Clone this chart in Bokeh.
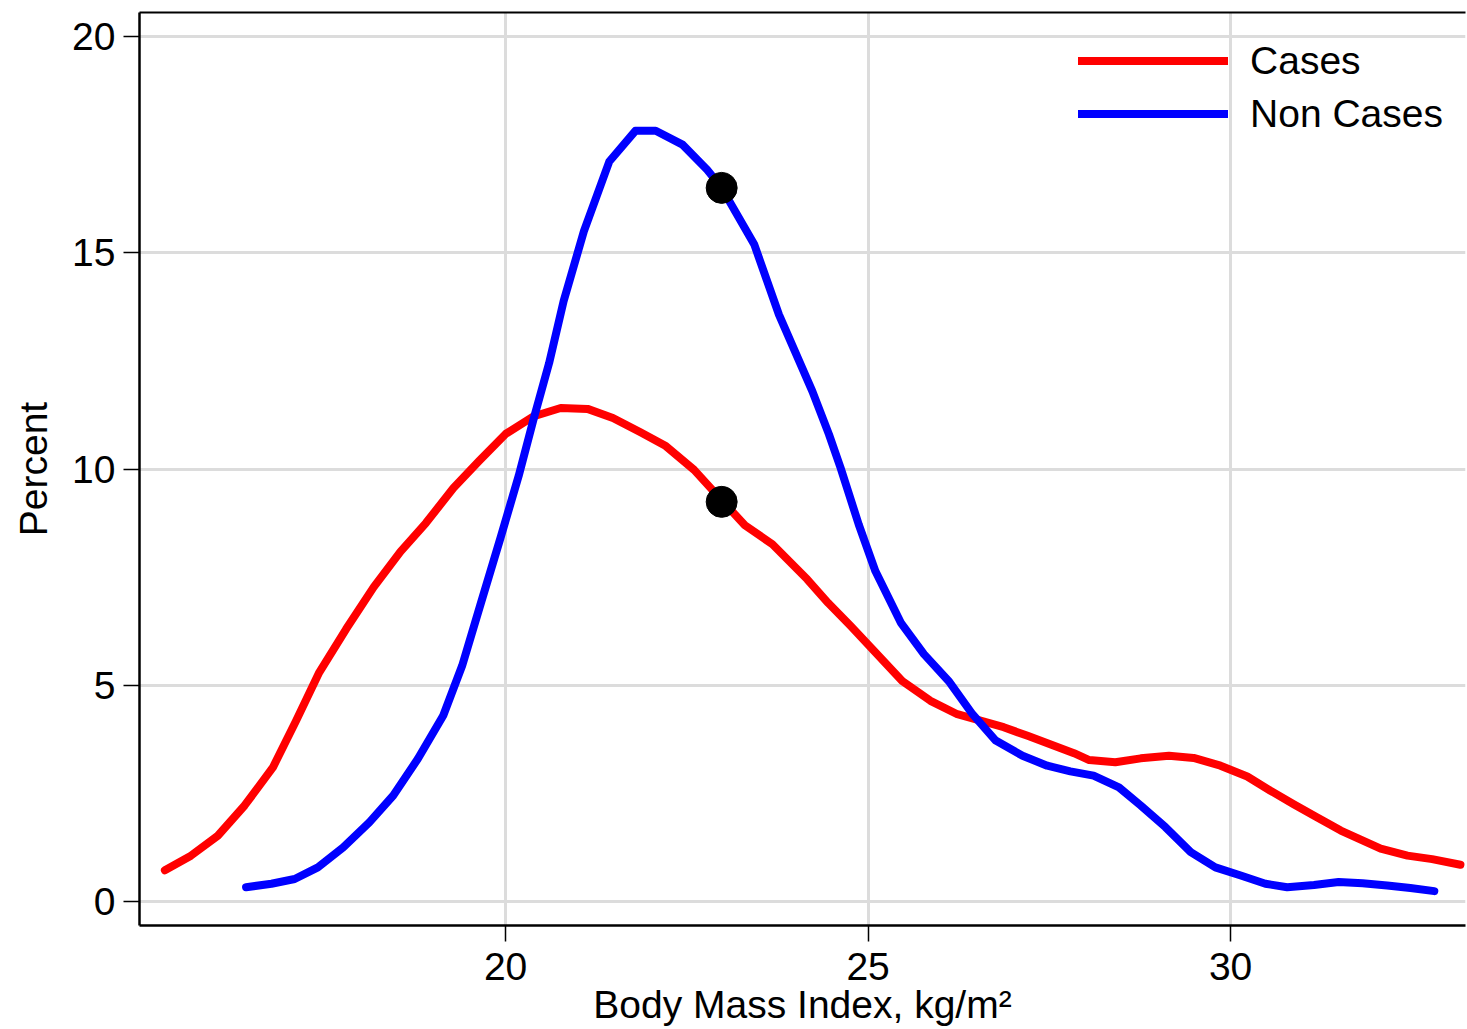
from bokeh.plotting import figure
from bokeh.models import Range1d, LinearAxis, FixedTicker, Legend, LegendItem
from bokeh.embed import file_html
from bokeh.resources import INLINE

# ---- data ----
cases_bmi = [15.30, 15.66, 16.03, 16.40, 16.79, 17.11, 17.43, 17.80, 18.18, 18.55,
             18.90, 19.28, 19.63, 20.00, 20.39, 20.76, 21.13, 21.48, 21.86, 22.21,
             22.60, 22.98, 23.30, 23.68, 24.16, 24.45, 24.76, 25.08, 25.47, 25.86,
             26.23, 26.55, 26.87, 27.20, 27.52, 27.84, 28.05, 28.41, 28.76, 29.15,
             29.49, 29.86, 30.23, 30.55, 30.87, 31.19, 31.52, 32.07, 32.44, 32.78, 33.17]
cases_pct = [0.72, 1.06, 1.52, 2.22, 3.10, 4.18, 5.30, 6.30, 7.27, 8.09,
             8.75, 9.56, 10.18, 10.81, 11.22, 11.41, 11.39, 11.18, 10.85, 10.53,
             9.98, 9.28, 8.70, 8.26, 7.45, 6.90, 6.37, 5.80, 5.10, 4.64,
             4.33, 4.18, 4.03, 3.83, 3.63, 3.43, 3.27, 3.22, 3.31, 3.37,
             3.32, 3.14, 2.89, 2.56, 2.25, 1.95, 1.64, 1.22, 1.06, 0.98, 0.85]

noncases_bmi = [16.42, 16.77, 17.09, 17.41, 17.76, 18.12, 18.45, 18.79, 19.14, 19.40,
                19.65, 19.93, 20.18, 20.39, 20.60, 20.80, 21.08, 21.43, 21.79, 22.07,
                22.44, 22.78, 22.98, 23.43, 23.77, 24.23, 24.46, 24.62, 24.87, 25.10,
                25.45, 25.77, 26.11, 26.44, 26.76, 27.13, 27.47, 27.79, 28.11, 28.46,
                28.76, 29.10, 29.45, 29.79, 30.14, 30.48, 30.78, 31.15, 31.49, 31.82,
                32.16, 32.48, 32.81]
noncases_pct = [0.33, 0.41, 0.52, 0.79, 1.25, 1.83, 2.45, 3.30, 4.30, 5.45,
                6.85, 8.41, 9.84, 11.18, 12.45, 13.88, 15.50, 17.11, 17.82, 17.82,
                17.50, 16.92, 16.50, 15.19, 13.57, 11.80, 10.80, 10.03, 8.72, 7.64,
                6.45, 5.72, 5.10, 4.33, 3.72, 3.37, 3.14, 3.01, 2.91, 2.64,
                2.22, 1.72, 1.14, 0.79, 0.60, 0.41, 0.33, 0.38, 0.45, 0.42,
                0.37, 0.31, 0.24]

marker_bmi = [22.98, 22.98]
marker_pct = [16.50, 9.24]

x_ticks = [20, 25, 30]
y_ticks = [0, 5, 10, 15, 20]

FONT = "Liberation Sans"
FS = "39px"

p = figure(width=1467, height=1029, output_backend="svg", toolbar_location=None,
           x_range=Range1d(14.95, 33.24), y_range=Range1d(-0.555, 20.555),
           min_border_left=139, min_border_right=2, min_border_top=12,
           min_border_bottom=104)
p.background_fill_color = "white"
p.border_fill_color = "white"
p.outline_line_color = None

# grid
p.xgrid.ticker = FixedTicker(ticks=x_ticks)
p.ygrid.ticker = FixedTicker(ticks=y_ticks)
for g in (p.xgrid[0], p.ygrid[0]):
    g.grid_line_color = "#dcdcdc"
    g.grid_line_width = 3

# axes
for ax in (p.xaxis[0], p.yaxis[0]):
    ax.axis_line_color = "black"
    ax.axis_line_width = 2.5
    ax.major_tick_line_color = "black"
    ax.major_tick_line_width = 1.5
    ax.major_tick_out = 16
    ax.major_tick_in = 0
    ax.minor_tick_line_color = None
    ax.major_label_text_font = FONT
    ax.major_label_text_font_size = FS
    ax.major_label_text_color = "black"
    ax.axis_label_text_font = FONT
    ax.axis_label_text_font_size = FS
    ax.axis_label_text_font_style = "normal"
    ax.axis_label_text_color = "black"

p.xaxis[0].ticker = FixedTicker(ticks=x_ticks)
p.yaxis[0].ticker = FixedTicker(ticks=y_ticks)
p.xaxis[0].axis_label = "Body Mass Index, kg/m²"
p.yaxis[0].axis_label = "Percent"
p.xaxis[0].major_label_standoff = 11
p.xaxis[0].axis_label_standoff = 0
p.yaxis[0].major_label_standoff = 8
p.yaxis[0].axis_label_standoff = 14

# top border
top = LinearAxis(ticker=FixedTicker(ticks=[]), major_label_text_font_size="0px",
                 axis_line_color="black", axis_line_width=2,
                 major_tick_line_color=None, minor_tick_line_color=None)
p.add_layout(top, "above")

# curves
r_cases = p.line(cases_bmi, cases_pct, line_color="#ff0000", line_width=8,
                 line_cap="round", line_join="round")
r_non = p.line(noncases_bmi, noncases_pct, line_color="#0000ff", line_width=8,
               line_cap="round", line_join="round")
p.scatter(marker_bmi, marker_pct, size=31, fill_color="black", line_color="black")

legend = Legend(items=[LegendItem(label="Cases", renderers=[r_cases]),
                       LegendItem(label="Non Cases", renderers=[r_non])],
                location="top_right")
legend.background_fill_alpha = 0
legend.border_line_color = None
legend.label_text_font = FONT
legend.label_text_font_size = FS
legend.label_text_color = "black"
legend.glyph_width = 150
legend.glyph_height = 53
legend.label_height = 53
legend.label_standoff = 22
legend.spacing = 0
legend.padding = 0
legend.margin = 22
p.add_layout(legend)

open("out.html", "w").write(file_html(p, INLINE))
